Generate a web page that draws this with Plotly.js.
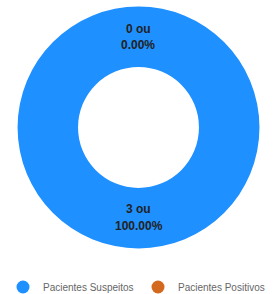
<!DOCTYPE html>
<html><head><meta charset="utf-8">
<script src="https://cdn.plot.ly/plotly-3.0.1.min.js"></script>
<style>html,body{margin:0;padding:0;background:#fff}</style>
</head><body><div id="chart" style="width:277px;height:294px"></div>
<script>
const labels = ["Pacientes Suspeitos", "Pacientes Positivos"];
const values = [3, 0];
const colors = ["#1E90FF", "#D2691E"];

const W = 277, H = 294;
const CX = 138.5, CY = 137.5, RMID = 97.5, LINE = 9; // layout geometry (px)
const total = values.reduce((a, b) => a + b, 0);
const textFont = {family: "Liberation Sans, Arial, sans-serif", size: 12, color: "#222", weight: "bold"};

const traces = [{
  type: "pie",
  labels: labels,
  values: values,
  hole: 0.5,
  sort: false,
  direction: "clockwise",
  rotation: 0,
  marker: {colors: colors, line: {width: 0}},
  textinfo: "none",
  hoverinfo: "none",
  showlegend: false,
  domain: {x: [0, 1], y: [0.0884, 0.976]}
}];
labels.forEach((l, i) => {
  traces.push({type: "scatter", mode: "markers", x: [null], y: [null], name: l,
    marker: {symbol: "circle", size: 13, color: colors[i]}, showlegend: true, hoverinfo: "none"});
});

// slice labels at mid-angle of each slice, mid-ring
const annotations = [];
let cum = 0;
values.forEach((v, i) => {
  const mid = (cum + v / 2) / total * 2 * Math.PI; // clockwise from 12 o'clock
  cum += v;
  const px = CX + RMID * Math.sin(mid), py = CY - RMID * Math.cos(mid);
  const lines = [v + " ou", (100 * v / total).toFixed(2) + "%"];
  lines.forEach((t, k) => annotations.push({
    xref: "paper", yref: "paper", x: px / W, y: 1 - (py + (k === 0 ? -LINE : LINE)) / H,
    xanchor: "center", yanchor: "middle", showarrow: false, text: t, font: textFont
  }));
});

Plotly.newPlot("chart", traces, {
  width: W, height: H,
  margin: {l: 0, r: 0, t: 0, b: 0},
  paper_bgcolor: "#fff", plot_bgcolor: "rgba(0,0,0,0)",
  xaxis: {visible: false}, yaxis: {visible: false},
  annotations: annotations,
  showlegend: true,
  legend: {orientation: "h", xref: "container", yref: "container",
    x: 3 / 277, xanchor: "left", y: 1 - 287 / 294, yanchor: "middle",
    font: {family: "Liberation Sans, Arial, sans-serif", size: 10, color: "#666"},
    entrywidth: 90, itemwidth: 30, tracegroupgap: 0}
}, {displayModeBar: false, staticPlot: true});
</script></body></html>
